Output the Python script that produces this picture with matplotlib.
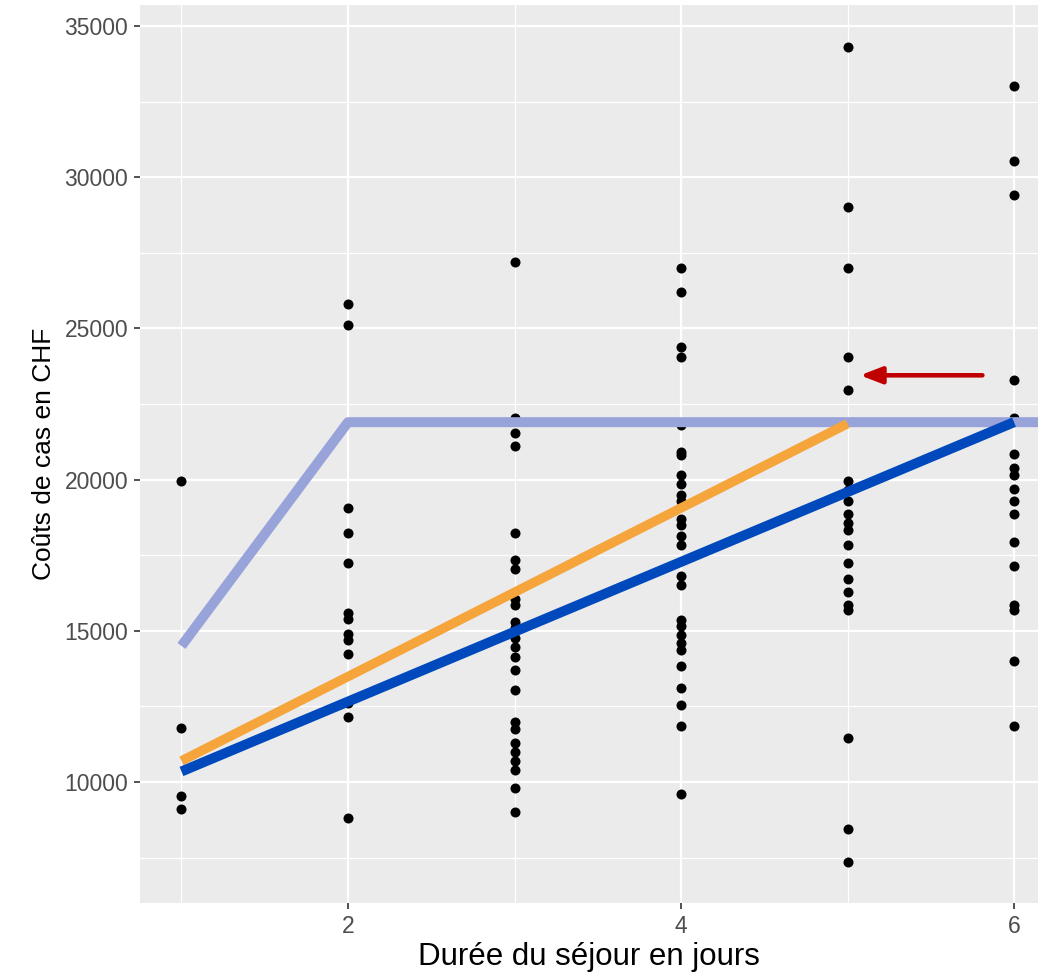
import matplotlib
matplotlib.use("Agg")
import matplotlib.pyplot as plt
from matplotlib.ticker import MultipleLocator

plt.rcParams['font.family'] = ['Liberation Sans', 'DejaVu Sans']

# costs per length of stay (days 1..6)
days = [1, 2, 3, 4, 5, 6]
costs_day1 = [19950, 11800, 9550, 9100]
costs_day2 = [25800, 25100, 19050, 18250, 17250, 15600, 15400, 14900, 14700,
              14250, 12600, 12150, 8800]
costs_day3 = [27200, 22050, 21550, 21100, 18250, 17350, 17050, 16050, 15850,
              15300, 15100, 14750, 14450, 14150, 13700, 13050, 12000, 11750,
              11300, 11000, 10700, 10400, 9800, 9000]
costs_day4 = [27000, 26200, 24400, 24050, 21800, 20900, 20800, 20150, 19850,
              19500, 19300, 18700, 18500, 18150, 17850, 16800, 16500, 15350,
              15150, 14850, 14600, 14350, 13850, 13100, 12550, 11850, 9600]
costs_day5 = [34300, 29000, 27000, 24050, 22950, 19950, 19650, 19300, 18850,
              18550, 18350, 17850, 17250, 16700, 16300, 15850, 15700, 11450,
              8450, 7350]
costs_day6 = [33000, 30550, 29400, 23300, 22050, 20850, 20400, 20150, 19700,
              19300, 18850, 17950, 17150, 15850, 15700, 14000, 11850]
all_costs = [costs_day1, costs_day2, costs_day3, costs_day4, costs_day5, costs_day6]

# overlay lines
cap_x = [1, 2, 6.25]
cap_y = [14500, 21900, 21900]
orange_x = [1, 5]
orange_y = [10700, 21850]
blue_x = [1, 6]
blue_y = [10350, 21900]

# annotation arrow
arrow_tip = (5.075, 23450)
arrow_tail = (5.81, 23450)

fig = plt.figure(figsize=(10.38, 9.72), dpi=100)
ax = fig.add_axes([140 / 1038, 69 / 972, 898 / 1038, 898 / 972])
ax.set_facecolor('#EBEBEB')
for s in ax.spines.values():
    s.set_visible(False)

for d, vals in zip(days, all_costs):
    ax.scatter([d] * len(vals), vals, s=52, color='black', linewidths=0, zorder=3)

ax.plot(cap_x, cap_y, color='#98A3DA', lw=7.2, solid_capstyle='butt', zorder=4)
ax.plot(orange_x, orange_y, color='#F5A53B', lw=6.8, solid_capstyle='butt', zorder=5)
ax.plot(blue_x, blue_y, color='#0049BD', lw=7.2, solid_capstyle='butt', zorder=6)

ax.annotate('', xy=arrow_tip, xytext=arrow_tail,
            arrowprops=dict(arrowstyle='-|>,head_length=1.3,head_width=0.5',
                            color='#C00000', lw=3.3, shrinkA=0, shrinkB=0),
            zorder=7)

ax.set_xlim(0.7508, 6.144)
ax.set_ylim(6000, 35695)
ax.xaxis.set_major_locator(MultipleLocator(2))
ax.xaxis.set_minor_locator(MultipleLocator(1))
ax.yaxis.set_major_locator(MultipleLocator(5000))
ax.yaxis.set_minor_locator(MultipleLocator(2500))
ax.grid(which='major', color='white', lw=1.6, zorder=0)
ax.grid(which='minor', color='white', lw=0.9, zorder=0)
ax.set_axisbelow(True)

ax.tick_params(which='major', length=4.5, width=1.2, color='#333333',
               labelcolor='#4D4D4D', labelsize=16.5, pad=4)
ax.tick_params(which='minor', length=0)

ax.set_xlabel('Durée du séjour en jours', fontsize=22.5, labelpad=3)
ax.set_ylabel('Coûts de cas en CHF', fontsize=19, labelpad=6)

fig.savefig('out.png', dpi=100)
